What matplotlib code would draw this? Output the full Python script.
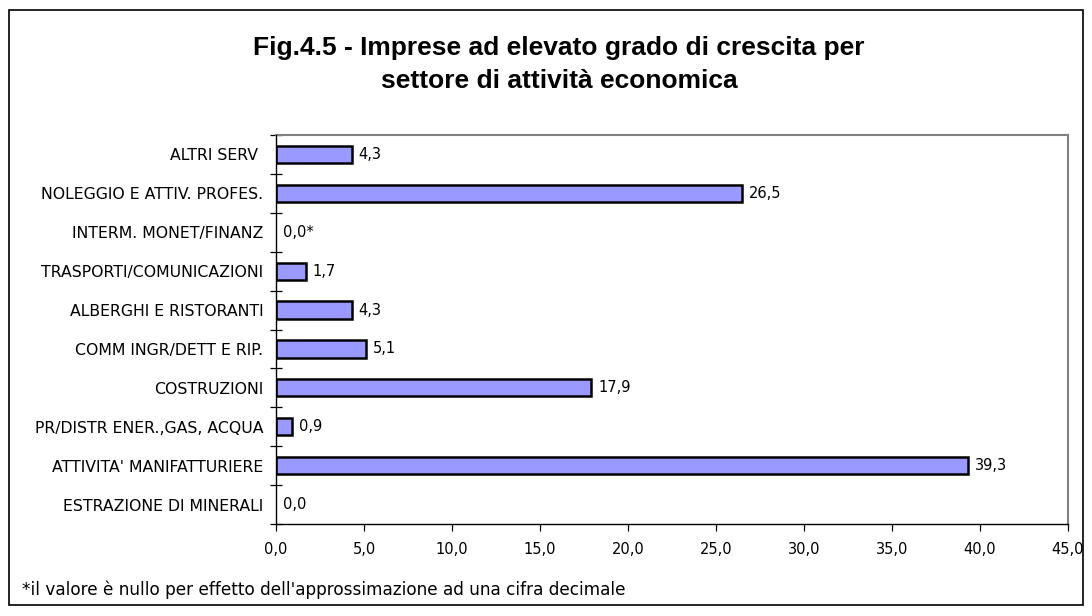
import matplotlib
matplotlib.use("Agg")
from matplotlib import pyplot as plt
from matplotlib.patches import Rectangle
import numpy as np

plt.rcParams['font.family'] = ['DejaVu Sans']

settori = ["ESTRAZIONE DI MINERALI", "ATTIVITA' MANIFATTURIERE", "PR/DISTR ENER.,GAS, ACQUA",
           "COSTRUZIONI", "COMM INGR/DETT E RIP.", "ALBERGHI E RISTORANTI",
           "TRASPORTI/COMUNICAZIONI", "INTERM. MONET/FINANZ", "NOLEGGIO E ATTIV. PROFES.",
           "ALTRI SERV "]
valori = [0.0, 39.3, 0.9, 17.9, 5.1, 4.3, 1.7, 0.0, 26.5, 4.3]
etichette = ["0,0", "39,3", "0,9", "17,9", "5,1", "4,3", "1,7", "0,0*", "26,5", "4,3"]
xticks = [0, 5, 10, 15, 20, 25, 30, 35, 40, 45]

fig = plt.figure(figsize=(10.92, 6.16), dpi=100)
fig.patches.append(Rectangle((9/1092, 1 - 605/616), 1074/1092, 595/616,
                             transform=fig.transFigure, fill=False,
                             edgecolor='black', linewidth=1.2))

ax = fig.add_axes([276/1092, 1 - 524/616, 792/1092, 389/616])
y = np.arange(len(settori))
# nessun bordo per le barre di valore nullo
spessori = [1.8 if v > 0 else 0 for v in valori]
ax.barh(y, valori, height=0.44, color='#9999FF', edgecolor='black', linewidth=spessori)
for yi, v, t in zip(y, valori, etichette):
    ax.annotate(t, (v, yi), xytext=(5, 0), textcoords='offset points',
                va='center', ha='left', fontsize=10.5)

ax.set_xlim(0, 45)
ax.set_ylim(-0.5, len(settori) - 0.5)
ax.set_xticks(xticks)
ax.set_xticklabels([f"{t:.1f}".replace('.', ',') for t in xticks], fontsize=10.5)
ax.set_yticks(y)
ax.set_yticklabels(settori, fontsize=11.3)
ax.tick_params(axis='y', length=0, pad=9)
ax.tick_params(axis='x', length=5, direction='out', pad=8, width=0.9)
# tacche tra le categorie, a cavallo dell'asse
ax.set_yticks(np.arange(-0.5, len(settori)), minor=True)
ax.tick_params(axis='y', which='minor', length=8, direction='inout', width=0.9)

for s in ['top', 'right']:
    ax.spines[s].set_color('#808080')
    ax.spines[s].set_linewidth(1.5)
for s in ['left', 'bottom']:
    ax.spines[s].set_color('black')
    ax.spines[s].set_linewidth(1.0)
ax.spines['left'].set_zorder(3)

fig.text(559/1092, 1 - 55/616, "Fig.4.5 - Imprese ad elevato grado di crescita per",
         ha='center', va='baseline', fontsize=19, fontweight='bold',
         family='Liberation Sans')
fig.text(559/1092, 1 - 88/616, "settore di attività economica",
         ha='center', va='baseline', fontsize=19, fontweight='bold',
         family='Liberation Sans')
fig.text(22/1092, 1 - 590/616,
         "*il valore è nullo per effetto dell'approssimazione ad una cifra decimale",
         ha='left', va='center', fontsize=12.2)

fig.savefig("out.png", dpi=100)
